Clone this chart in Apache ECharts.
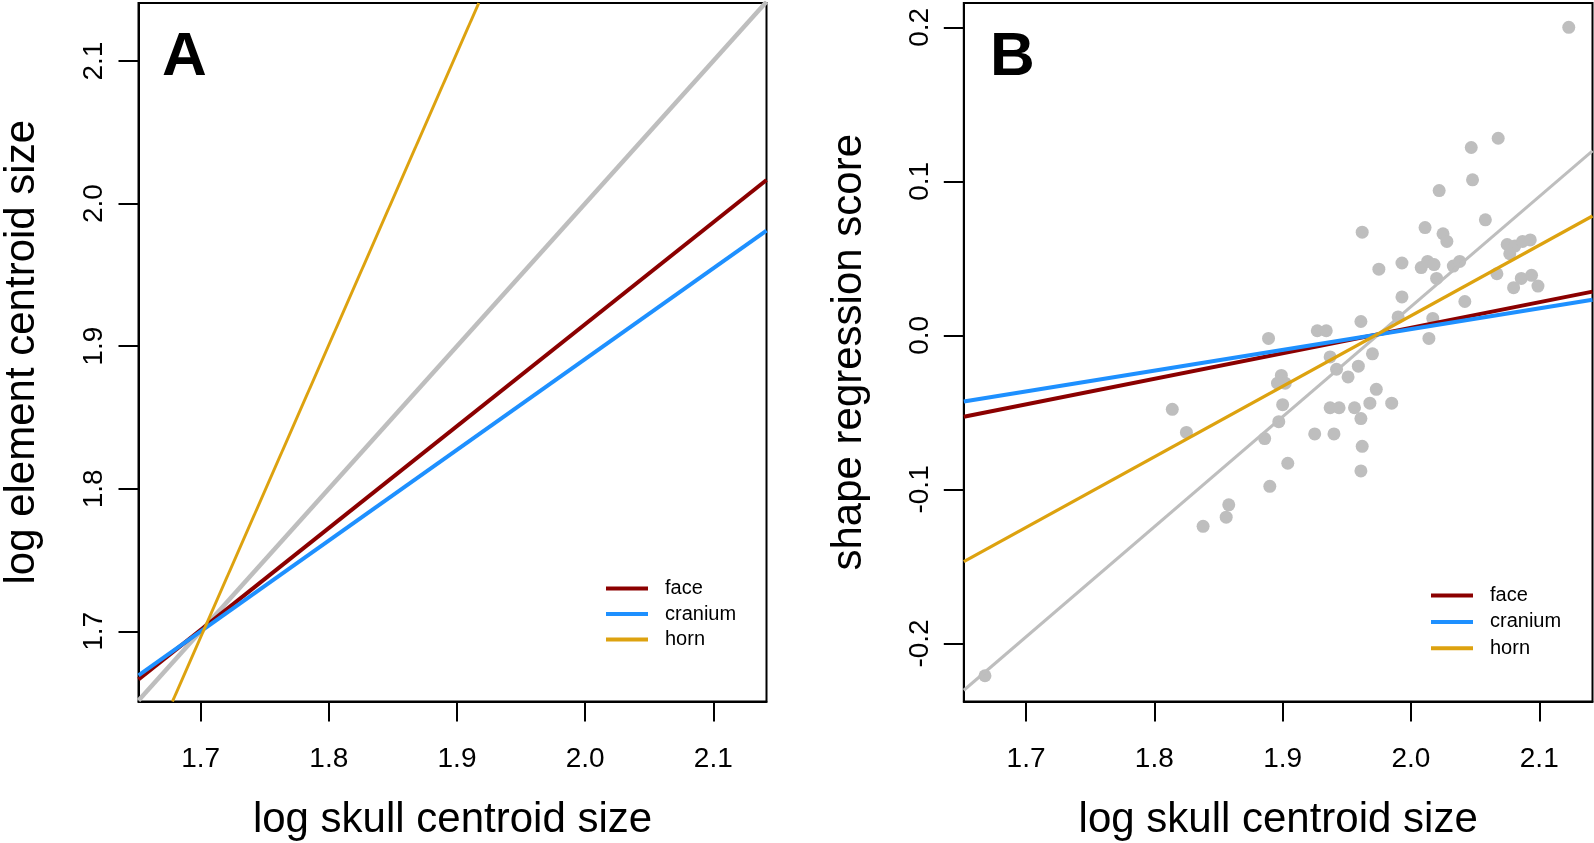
<!DOCTYPE html>
<html>
<head>
<meta charset="utf-8">
<script src="https://cdn.jsdelivr.net/npm/echarts@6/dist/echarts.min.js"></script>
<style>
html,body{margin:0;padding:0;background:#fff;}
#chart{width:1594px;height:843px;}
</style>
</head>
<body>
<div id="chart"></div>
<script>
// ---- axis ranges and ticks ----
const xRange = [1.6515, 2.1415];
const yRangeA = [1.6508, 2.1407];
const yRangeB = [-0.2377, 0.2158];
const xTicks = [1.7, 1.8, 1.9, 2.0, 2.1];
const yTicksA = [1.7, 1.8, 1.9, 2.0, 2.1];
const yTicksB = [-0.2, -0.1, 0.0, 0.1, 0.2];

// ---- panel A lines (endpoints) ----
const isoA = [[1.6515, 1.6515], [2.1415, 2.1415]];
const faceA = [[1.6515, 1.6663], [2.1415, 2.0166]];
const craniumA = [[1.6515, 1.6691], [2.1415, 1.9810]];
const hornA = [[1.678, 1.6508], [1.917, 2.1407]];

// ---- panel B lines ----
const allB = [[1.6515, -0.2304], [2.1415, 0.1198]];
const faceB = [[1.6515, -0.0528], [2.1415, 0.0284]];
const craniumB = [[1.6515, -0.0429], [2.1415, 0.0231]];
const hornB = [[1.6515, -0.1469], [2.1415, 0.0775]];

// ---- panel B specimens ----
const pointsB = [
  [2.123, 0.200], [2.068, 0.128], [2.047, 0.122], [2.048, 0.101], [2.022, 0.094],
  [2.058, 0.075], [1.962, 0.067], [2.011, 0.070], [2.025, 0.066], [2.028, 0.061],
  [1.975, 0.043], [1.993, 0.047], [2.008, 0.044], [2.013, 0.048], [2.018, 0.046],
  [2.020, 0.037], [2.033, 0.045], [2.038, 0.048], [2.075, 0.059], [2.081, 0.058],
  [2.087, 0.061], [2.093, 0.062], [2.077, 0.053], [2.067, 0.040], [2.080, 0.031],
  [2.086, 0.037], [2.094, 0.039], [2.099, 0.032], [2.042, 0.022], [1.993, 0.025],
  [2.017, 0.011], [2.014, -0.002], [1.990, 0.012], [1.961, 0.009], [1.927, 0.003],
  [1.934, 0.003], [1.889, -0.002], [1.970, -0.012], [1.937, -0.014], [1.942, -0.022],
  [1.959, -0.020], [1.951, -0.027], [1.973, -0.035], [1.899, -0.026], [1.902, -0.031],
  [1.896, -0.031], [1.814, -0.048], [1.900, -0.045], [1.937, -0.047], [1.944, -0.047],
  [1.956, -0.047], [1.968, -0.044], [1.985, -0.044], [1.961, -0.054], [1.897, -0.056],
  [1.825, -0.063], [1.925, -0.064], [1.940, -0.064], [1.886, -0.067], [1.962, -0.072],
  [1.904, -0.083], [1.961, -0.088], [1.890, -0.098], [1.858, -0.110], [1.856, -0.118],
  [1.838, -0.124], [1.668, -0.221]
];

const legendNames = ['face', 'cranium', 'horn'];
const colors = { face: '#8B0000', cranium: '#1E90FF', horn: '#DDA20F', gray: '#BEBEBE' };
const FONT = '"Liberation Sans", Arial, sans-serif';

function xAxis(gridIndex) {
  return {
    type: 'value', gridIndex, min: xRange[0], max: xRange[1],
    name: 'log skull centroid size', nameLocation: 'middle', nameGap: 98,
    nameTextStyle: { fontSize: 42, color: '#000', fontFamily: FONT },
    axisLine: { show: true, onZero: false, lineStyle: { color: '#000', width: 2 } },
    axisTick: { show: true, length: 20, customValues: xTicks, lineStyle: { color: '#000', width: 2 } },
    axisLabel: { customValues: xTicks, margin: 44, fontSize: 28, color: '#000', fontFamily: FONT,
      formatter: v => v.toFixed(1) },
    splitLine: { show: false }
  };
}
function yAxis(gridIndex, range, ticks, name, nameGap) {
  return {
    type: 'value', gridIndex, min: range[0], max: range[1],
    name, nameLocation: 'middle', nameGap,
    nameTextStyle: { fontSize: 42, color: '#000', fontFamily: FONT },
    axisLine: { show: true, onZero: false, lineStyle: { color: '#000', width: 2 } },
    axisTick: { show: true, length: 20, customValues: ticks, lineStyle: { color: '#000', width: 2 } },
    axisLabel: { customValues: ticks, rotate: 90, margin: 30, fontSize: 28, color: '#000', fontFamily: FONT,
      formatter: v => (Math.abs(v) < 1e-9 ? 0 : v).toFixed(1) },
    splitLine: { show: false }
  };
}
function lineSeries(name, data, color, width, xi, yi) {
  return {
    type: 'line', name, data, xAxisIndex: xi, yAxisIndex: yi,
    showSymbol: false, symbol: 'none', silent: true, clip: true,
    lineStyle: { color, width }, itemStyle: { color }
  };
}
function legend(left, top, gap) {
  return {
    data: legendNames, orient: 'vertical', left, top, padding: 0,
    icon: 'rect', itemWidth: 42, itemHeight: 4, itemGap: gap,
    selectedMode: false,
    textStyle: { fontSize: 20, lineHeight: 20, color: '#000', fontFamily: FONT, padding: [0, 0, 0, 12] }
  };
}

const chart = echarts.init(document.getElementById('chart'), null, { renderer: 'canvas' });
chart.setOption({
  animation: false,
  backgroundColor: '#fff',
  grid: [
    { left: 138.5, top: 3, width: 628, height: 698.5, show: true, borderColor: '#000', borderWidth: 2, backgroundColor: 'transparent', outerBoundsMode: 'none' },
    { left: 963.8, top: 3, width: 628.7, height: 698.5, show: true, borderColor: '#000', borderWidth: 2, backgroundColor: 'transparent', outerBoundsMode: 'none' }
  ],
  xAxis: [xAxis(0), xAxis(1)],
  yAxis: [
    yAxis(0, yRangeA, yTicksA, 'log element centroid size', 95),
    yAxis(1, yRangeB, yTicksB, 'shape regression score', 93)
  ],
  legend: [legend(606, 578.5, 5.5), legend(1431, 585.5, 6.4)],
  graphic: [
    { type: 'text', left: 162, top: 27, style: { text: 'A', font: 'bold 62px "Liberation Sans", Arial, sans-serif', fill: '#000' } },
    { type: 'text', left: 990, top: 27, style: { text: 'B', font: 'bold 62px "Liberation Sans", Arial, sans-serif', fill: '#000' } }
  ],
  series: [
    lineSeries('isometry', isoA, colors.gray, 4.5, 0, 0),
    lineSeries('face', faceA, colors.face, 4, 0, 0),
    lineSeries('cranium', craniumA, colors.cranium, 4, 0, 0),
    lineSeries('horn', hornA, colors.horn, 3, 0, 0),
    {
      type: 'scatter', name: 'specimens', data: pointsB, xAxisIndex: 1, yAxisIndex: 1,
      symbol: 'circle', symbolSize: 13, silent: true,
      itemStyle: { color: colors.gray, opacity: 1 }
    },
    lineSeries('allometry', allB, colors.gray, 3, 1, 1),
    lineSeries('face', faceB, colors.face, 4, 1, 1),
    lineSeries('cranium', craniumB, colors.cranium, 4, 1, 1),
    lineSeries('horn', hornB, colors.horn, 3.2, 1, 1)
  ]
});
</script>
</body>
</html>
